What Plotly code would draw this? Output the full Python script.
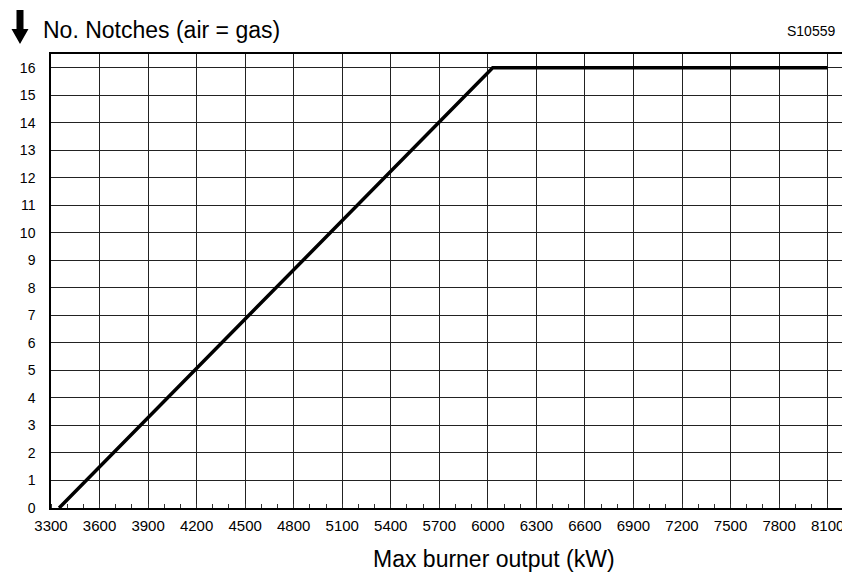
import plotly.graph_objects as go

# Data
output_kw = [3350, 6030, 8100]
notches = [0, 16, 16]
x_ticks = list(range(3300, 8101, 300))
y_ticks = list(range(0, 17))

# The page body has an 8px default margin; size the figure to fill the rest.
OFF = 8
SW, SH = 850, 574                 # screen size
W, H = SW - OFF, SH - OFF         # figure size
# plot area in screen pixels
X0, X1, Y0, Y1 = 51, 843, 54, 508
L, R, T, B = X0 - OFF, SW - X1, Y0 - OFF, SH - Y1
PW, PH = X1 - X0, Y1 - Y0

def px(x):
    return (x - X0) / PW

def py(y):
    return (Y1 - y) / PH

FONT = "Arial, Liberation Sans, sans-serif"

fig = go.Figure()
fig.add_trace(go.Scatter(x=output_kw, y=notches, mode="lines",
                         line=dict(color="black", width=3.5), showlegend=False,
                         hoverinfo="skip"))

arrow_pts = [(16.5, 10), (23.5, 10), (23.5, 29), (28.5, 29), (20, 44), (11.5, 29), (16.5, 29)]
path = "M " + " L ".join(f"{px(a):.5f},{py(b):.5f}" for a, b in arrow_pts) + " Z"

fig.update_layout(
    width=W, height=H,
    margin=dict(l=L, r=R, t=T, b=B, autoexpand=False),
    paper_bgcolor="white", plot_bgcolor="white",
    font=dict(family=FONT, color="black", size=14),
    xaxis=dict(range=[3300, 8195], tickvals=x_ticks, ticktext=[str(v) for v in x_ticks],
               showgrid=True, gridcolor="#222", gridwidth=1, automargin=False,
               showline=True, linecolor="black", linewidth=1.5, mirror=True,
               ticks="", zeroline=False, tickfont=dict(size=15), ticklabelstandoff=3,
               minor=dict(dtick=100, tick0=3300, ticks="inside", ticklen=4,
                          tickcolor="#333", showgrid=False)),
    yaxis=dict(range=[0, 16.5], tickvals=y_ticks, showgrid=True, gridcolor="#222",
               gridwidth=1, showline=True, linecolor="black", linewidth=1.5,
               automargin=False, ticklabelstandoff=11,
               mirror=True, ticks="", zeroline=False, tickfont=dict(size=14)),
    shapes=[dict(type="path", path=path, xref="paper", yref="paper",
                 fillcolor="black", line=dict(color="black", width=0))],
    annotations=[
        dict(text="No. Notches (air = gas)", x=px(41), y=py(30), xref="paper", yref="paper",
             xanchor="left", yanchor="middle", showarrow=False, font=dict(size=23)),
        dict(text="S10559", x=px(837), y=py(31), xref="paper", yref="paper",
             xanchor="right", yanchor="middle", showarrow=False, font=dict(size=14)),
        dict(text="Max burner output (kW)", x=px(494), y=py(559), xref="paper", yref="paper",
             xanchor="center", yanchor="middle", showarrow=False, font=dict(size=23)),
    ],
)

fig.write_html("out.html")
